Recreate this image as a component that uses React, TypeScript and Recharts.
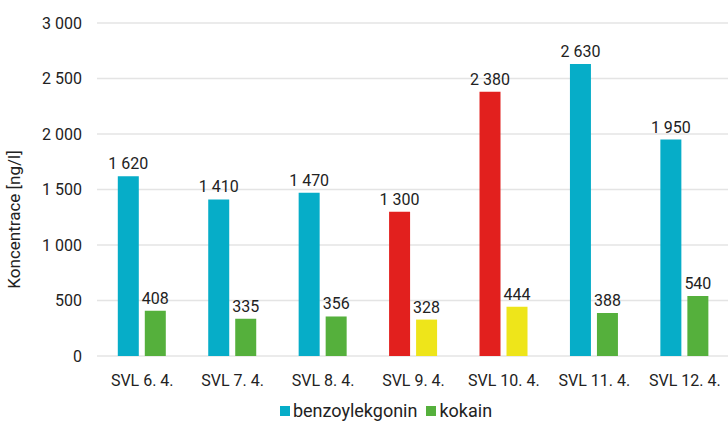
import { BarChart, Bar, Cell, CartesianGrid, XAxis, YAxis, LabelList, Legend, Label } from 'recharts';

const DAYS = ['SVL 6. 4.', 'SVL 7. 4.', 'SVL 8. 4.', 'SVL 9. 4.', 'SVL 10. 4.', 'SVL 11. 4.', 'SVL 12. 4.'];
const BENZOYLEKGONIN = [1620, 1410, 1470, 1300, 2380, 2630, 1950];
const KOKAIN = [408, 335, 356, 328, 444, 388, 540];
// days with elevated values get the warning colours
const HIGHLIGHTED = [false, false, false, true, true, false, false];
const Y_TICKS = [0, 500, 1000, 1500, 2000, 2500, 3000];

const BLUE = '#06adc8';
const GREEN = '#55b03c';
const RED = '#e2201e';
const YELLOW = '#eee51a';
const TEXT = '#222';
const FONT = 'Roboto, "Liberation Sans", sans-serif';

const data = DAYS.map((day, i) => ({
  day,
  benzo: BENZOYLEKGONIN[i],
  kokain: KOKAIN[i],
  hot: HIGHLIGHTED[i],
}));

// thousands separated by a non-breaking space so labels never wrap
const fmt = (v: number) => String(v).replace(/\B(?=(\d{3})+(?!\d))/g, '\u00a0');

function LegendContent() {
  const items = [
    { name: 'benzoylekgonin', color: BLUE },
    { name: 'kokain', color: GREEN },
  ];
  return (
    <div style={{ display: 'flex', justifyContent: 'center', gap: 9, fontFamily: FONT, fontSize: 18, color: TEXT }}>
      {items.map((it) => (
        <span key={it.name} style={{ display: 'flex', alignItems: 'center', gap: 3 }}>
          <span style={{ width: 10, height: 10, background: it.color, display: 'inline-block' }} />
          {it.name}
        </span>
      ))}
    </div>
  );
}

export default function App() {
  return (
    <div style={{ position: 'absolute', left: 0, top: 0, width: 728, height: 421, overflow: 'hidden', background: '#fff' }}>
      <BarChart
        width={735}
        height={421}
        data={data}
        margin={{ top: 23, right: 5, bottom: 0, left: 0 }}
        barCategoryGap="23%"
        barGap={6}
      >
        <CartesianGrid vertical={false} stroke="#e4e4e4" strokeWidth={1.5} />
        <XAxis
          dataKey="day"
          axisLine={false}
          tickLine={false}
          tickSize={0}
          tickMargin={19}
          height={44}
          tick={{ fill: TEXT, fontSize: 16, fontFamily: FONT }}
        />
        <YAxis
          width={97}
          domain={[0, 3000]}
          ticks={Y_TICKS}
          axisLine={false}
          tickLine={false}
          tickSize={0}
          tickMargin={15}
          tickFormatter={fmt}
          tick={{ fill: TEXT, fontSize: 16, fontFamily: FONT }}
        >
          <Label
            value="Koncentrace [ng/l]"
            angle={-90}
            position="insideLeft"
            offset={14}
            dy={30}
            style={{ fill: TEXT, fontSize: 17, fontFamily: FONT, textAnchor: 'middle' }}
          />
        </YAxis>
        <Legend
          verticalAlign="bottom"
          content={<LegendContent />}
          wrapperStyle={{ left: 22, top: 400, width: 728 }}
        />
        <Bar dataKey="benzo" name="benzoylekgonin" fill={BLUE} isAnimationActive={false}>
          {data.map((d) => (
            <Cell key={d.day} fill={d.hot ? RED : BLUE} />
          ))}
          <LabelList dataKey="benzo" position="top" offset={7} formatter={(v: any) => fmt(Number(v))} style={{ fill: TEXT, fontSize: 16, fontFamily: FONT }} />
        </Bar>
        <Bar dataKey="kokain" name="kokain" fill={GREEN} isAnimationActive={false}>
          {data.map((d) => (
            <Cell key={d.day} fill={d.hot ? YELLOW : GREEN} />
          ))}
          <LabelList dataKey="kokain" position="top" offset={7} style={{ fill: TEXT, fontSize: 16, fontFamily: FONT }} />
        </Bar>
      </BarChart>
    </div>
  );
}
